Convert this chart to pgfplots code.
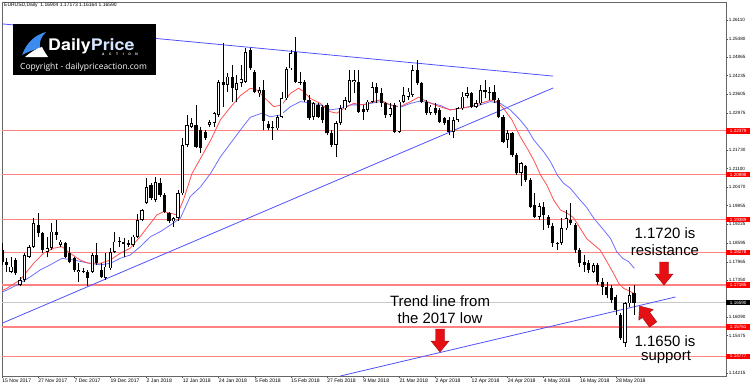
\documentclass[border=0pt]{standalone}
\usepackage{pgfplots}
\pgfplotsset{compat=1.18}
\usepackage{pgfplotstable}
\usepackage{fontspec}
\setmainfont{Liberation Sans}
\newfontfamily\osans{Open Sans}
\newfontfamily\logofont{TeX Gyre Heros}
\definecolor{hline}{RGB}{255,130,130}
\definecolor{maRed}{RGB}{255,80,80}
\definecolor{maBlue}{RGB}{110,110,255}
\definecolor{trend}{RGB}{80,80,255}
\definecolor{arrowred}{RGB}{230,16,20}
\definecolor{logoblue}{RGB}{60,140,240}
\definecolor{logolight}{RGB}{215,230,255}
\definecolor{lblred}{RGB}{255,0,0}

\pgfplotstableread{
i o h l c
0 1.1836 1.1859 1.1786 1.1797
1 1.1797 1.1808 1.1763 1.1785
2 1.1763 1.1814 1.1757 1.1780
3 1.1802 1.1808 1.1752 1.1757
4 1.1718 1.1746 1.1713 1.1735
5 1.1735 1.1825 1.1729 1.1819
6 1.1814 1.1853 1.1808 1.1847
7 1.1847 1.1943 1.1842 1.1926
8 1.1920 1.1960 1.1881 1.1892
9 1.1892 1.1898 1.1825 1.1836
10 1.1830 1.1881 1.1814 1.1842
11 1.1842 1.1926 1.1836 1.1898
12 1.1898 1.1937 1.1870 1.1887
13 1.1853 1.1870 1.1847 1.1864
14 1.1859 1.1864 1.1808 1.1814
15 1.1825 1.1847 1.1791 1.1797
16 1.1808 1.1814 1.1763 1.1769
17 1.1763 1.1791 1.1729 1.1769
18 1.1763 1.1774 1.1757 1.1765
19 1.1763 1.1769 1.1713 1.1741
20 1.1763 1.1825 1.1757 1.1819
21 1.1819 1.1859 1.1786 1.1791
22 1.1769 1.1791 1.1741 1.1746
23 1.1741 1.1825 1.1735 1.1780
24 1.1774 1.1842 1.1769 1.1830
25 1.1830 1.1898 1.1825 1.1864
26 1.1864 1.1881 1.1847 1.1866
27 1.1864 1.1875 1.1814 1.1856
28 1.1859 1.1870 1.1847 1.1853
29 1.1853 1.1887 1.1847 1.1881
30 1.1881 1.1957 1.1875 1.1937
31 1.1937 1.1975 1.1932 1.1970
32 1.1995 1.2078 1.1990 1.2049
33 1.2055 1.2061 1.2005 1.2010
34 1.2005 1.2083 1.1999 1.2066
35 1.2061 1.2078 1.2016 1.2021
36 1.2021 1.2027 1.1960 1.1965
37 1.1962 1.1965 1.1926 1.1932
38 1.1932 1.1948 1.1915 1.1943
39 1.1943 1.2038 1.1932 1.2027
40 1.2027 1.2212 1.2021 1.2190
41 1.2190 1.2291 1.2184 1.2257
42 1.2252 1.2280 1.2246 1.2263
43 1.2257 1.2325 1.2179 1.2184
44 1.2240 1.2252 1.2162 1.2179
45 1.2235 1.2240 1.2207 1.2212
46 1.2257 1.2274 1.2252 1.2268
47 1.2263 1.2302 1.2252 1.2297
48 1.2291 1.2409 1.2285 1.2403
49 1.2403 1.2532 1.2319 1.2392
50 1.2392 1.2431 1.2370 1.2420
51 1.2420 1.2459 1.2336 1.2381
52 1.2375 1.2426 1.2336 1.2398
53 1.2398 1.2459 1.2386 1.2411
54 1.2403 1.2516 1.2398 1.2504
55 1.2510 1.2516 1.2443 1.2448
56 1.2437 1.2443 1.2364 1.2370
57 1.2364 1.2386 1.2353 1.2375
58 1.2375 1.2409 1.2240 1.2269
59 1.2261 1.2269 1.2240 1.2246
60 1.2246 1.2269 1.2207 1.2248
61 1.2246 1.2291 1.2240 1.2285
62 1.2285 1.2370 1.2280 1.2347
63 1.2347 1.2454 1.2342 1.2445
64 1.2448 1.2510 1.2443 1.2499
65 1.2504 1.2555 1.2398 1.2403
66 1.2398 1.2437 1.2392 1.2403
67 1.2403 1.2409 1.2336 1.2342
68 1.2342 1.2358 1.2274 1.2280
69 1.2285 1.2336 1.2274 1.2330
70 1.2325 1.2330 1.2280 1.2285
71 1.2317 1.2325 1.2263 1.2274
72 1.2325 1.2330 1.2224 1.2229
73 1.2229 1.2240 1.2184 1.2190
74 1.2190 1.2269 1.2151 1.2263
75 1.2263 1.2325 1.2257 1.2313
76 1.2313 1.2353 1.2308 1.2342
77 1.2336 1.2443 1.2330 1.2409
78 1.2403 1.2443 1.2364 1.2409
79 1.2403 1.2443 1.2297 1.2302
80 1.2310 1.2325 1.2274 1.2302
81 1.2308 1.2342 1.2302 1.2336
82 1.2336 1.2403 1.2330 1.2386
83 1.2386 1.2398 1.2330 1.2364
84 1.2364 1.2381 1.2319 1.2330
85 1.2330 1.2336 1.2280 1.2291
86 1.2291 1.2330 1.2285 1.2313
87 1.2325 1.2330 1.2231 1.2235
88 1.2235 1.2342 1.2231 1.2336
89 1.2336 1.2386 1.2330 1.2358
90 1.2353 1.2381 1.2342 1.2370
91 1.2358 1.2459 1.2351 1.2443
92 1.2443 1.2476 1.2392 1.2398
93 1.2398 1.2403 1.2330 1.2336
94 1.2336 1.2342 1.2291 1.2297
95 1.2297 1.2325 1.2291 1.2319
96 1.2313 1.2330 1.2291 1.2297
97 1.2308 1.2313 1.2263 1.2268
98 1.2280 1.2285 1.2257 1.2263
99 1.2274 1.2285 1.2224 1.2235
100 1.2235 1.2285 1.2212 1.2274
101 1.2274 1.2319 1.2268 1.2313
102 1.2313 1.2370 1.2308 1.2353
103 1.2355 1.2386 1.2347 1.2364
104 1.2364 1.2370 1.2313 1.2319
105 1.2319 1.2341 1.2313 1.2330
106 1.2330 1.2392 1.2325 1.2375
107 1.2375 1.2409 1.2347 1.2367
108 1.2366 1.2386 1.2341 1.2370
109 1.2370 1.2392 1.2330 1.2341
110 1.2341 1.2347 1.2280 1.2285
111 1.2285 1.2291 1.2195 1.2201
112 1.2207 1.2240 1.2179 1.2229
113 1.2229 1.2235 1.2151 1.2156
114 1.2156 1.2162 1.2089 1.2094
115 1.2097 1.2134 1.2050 1.2128
116 1.2119 1.2122 1.2066 1.2072
117 1.2072 1.2077 1.1976 1.1982
118 1.1988 1.2027 1.1943 1.1948
119 1.1948 1.1993 1.1937 1.1984
120 1.1982 1.1999 1.1904 1.1954
121 1.1948 1.1954 1.1909 1.1920
122 1.1917 1.1926 1.1847 1.1859
123 1.1856 1.1864 1.1836 1.1861
124 1.1859 1.1943 1.1853 1.1909
125 1.1909 1.1971 1.1903 1.1943
126 1.1937 1.1993 1.1920 1.1926
127 1.1920 1.1926 1.1825 1.1836
128 1.1836 1.1842 1.1780 1.1791
129 1.1795 1.1819 1.1763 1.1785
130 1.1791 1.1802 1.1757 1.1769
131 1.1763 1.1791 1.1757 1.1785
132 1.1785 1.1791 1.1718 1.1729
133 1.1729 1.1741 1.1684 1.1712
134 1.1712 1.1729 1.1673 1.1684
135 1.1707 1.1718 1.1656 1.1668
136 1.1679 1.1684 1.1617 1.1634
137 1.1617 1.1623 1.1533 1.1538
138 1.1522 1.1662 1.1510 1.1656
139 1.1656 1.1712 1.1645 1.1684
140 1.16904 1.17173 1.16164 1.16590
}\ohlc

\newcommand\blockarrow[2]{%
  \filldraw[fill=arrowred, draw=arrowred!65!black, line width=0.4bp, shift={#1}, rotate=#2]
    (0,0) -- (9,11) -- (4.5,11) -- (4.5,23) -- (-4.5,23) -- (-4.5,11) -- (-9,11) -- cycle;}

\begin{document}
\begin{tikzpicture}[x=1bp,y=1bp]
\useasboundingbox (0,0) rectangle (750,388);
\begin{axis}[
  at={(2bp,12bp)}, anchor=south west,
  width=724bp, height=374bp, scale only axis,
  xmin=0, xmax=160.4, ymin=1.14113, ymax=1.26717,
  clip mode=individual,
  axis line style={draw=black!60, line width=0.7bp},
  tick align=outside, major tick length=2bp,
  tick style={black!70, line width=0.4bp},
  xtick pos=left, ytick pos=right, yticklabel pos=right,
  xtick={0,8,...,136},
  xticklabels={15 Nov 2017, 27 Nov 2017, 7 Dec 2017, 19 Dec 2017, 2 Jan 2018, 12 Jan 2018, 24 Jan 2018, 5 Feb 2018, 15 Feb 2018, 27 Feb 2018, 9 Mar 2018, 21 Mar 2018, 2 Apr 2018, 12 Apr 2018, 24 Apr 2018, 4 May 2018, 16 May 2018, 28 May 2018},
  xticklabel style={anchor=north west, font=\fontsize{5.1}{6}\selectfont, inner sep=0.6bp, xshift=-0.5bp},
  ytick={1.14215,1.15475,1.16090,1.17350,1.17965,1.18595,1.19225,1.19855,1.20470,1.21100,1.21730,1.22975,1.23605,1.24235,1.24865,1.25480,1.26110},
  scaled y ticks=false,
  yticklabel style={anchor=west, font=\fontsize{4.6}{5}\selectfont, inner sep=0.6bp,
    /pgf/number format/.cd, fixed, fixed zerofill, precision=5, assume math mode=true},
]
% horizontal red levels
\pgfplotsinvokeforeach{1.22379,1.20898,1.19389,1.18278,1.17185,1.15761,1.14777}{
  \addplot[hline, line width=1.5bp, forget plot] coordinates {(0,#1) (161,#1)};
}
% bid line
\addplot[black!22, line width=0.6bp] coordinates {(0,1.16590) (161,1.16590)};
% trend lines
\addplot[trend, line width=0.8bp] coordinates {(0,1.2598) (122.1,1.2422)};
\addplot[trend, line width=0.8bp] coordinates {(0,1.1589) (122.1,1.2382)};
\addplot[trend, line width=0.8bp] coordinates {(74.95,1.14113) (149.2,1.16775)};
% slow MA (blue)
\addplot[maBlue, line width=0.8bp] coordinates {
(0.0,1.1694) (1.1,1.1701) (4.0,1.1724) (6.3,1.1746) (8.5,1.1769) (10.7,1.1786) (13.3,1.1808) (15.9,1.1802) (18.8,1.1793) (21.8,1.1786) (24.0,1.1791) (26.2,1.1808) (28.4,1.1819) (30.6,1.1847) (32.9,1.1881) (35.1,1.1898) (37.3,1.1920) (39.5,1.1943) (41.7,1.2016) (44.0,1.2049) (46.2,1.2094) (48.4,1.2150) (50.6,1.2195) (52.8,1.2240) (55.0,1.2283) (57.6,1.2297) (59.4,1.2285) (61.7,1.2291) (63.9,1.2319) (66.1,1.2336) (68.3,1.2332) (70.5,1.2325) (72.7,1.2308) (74.9,1.2313) (77.2,1.2325) (79.4,1.2325) (81.6,1.2330) (83.8,1.2336) (86.0,1.2325) (88.2,1.2317) (90.5,1.2330) (92.7,1.2338) (94.9,1.2331) (97.1,1.2323) (99.3,1.2308) (101.5,1.2313) (103.7,1.2319) (106.0,1.2325) (108.2,1.2336) (110.4,1.2330) (112.6,1.2308) (114.8,1.2274) (116.3,1.2246) (117.8,1.2207) (120.0,1.2167) (121.5,1.2134) (123.0,1.2089) (124.4,1.2061) (125.9,1.2044) (128.1,1.2004) (129.5,1.1980) (131.1,1.1943) (133.3,1.1903) (134.8,1.1875) (136.2,1.1830) (137.5,1.1808) (138.8,1.1797) (140.1,1.1774)};
% fast MA (red)
\addplot[maRed, line width=0.8bp] coordinates {
(0.0,1.1699) (1.1,1.1707) (4.0,1.1735) (7.0,1.1791) (9.2,1.1825) (11.4,1.1842) (13.3,1.1847) (15.1,1.1825) (17.3,1.1802) (19.2,1.1791) (21.8,1.1791) (24.0,1.1802) (26.2,1.1825) (28.4,1.1842) (30.6,1.1881) (32.9,1.1926) (34.3,1.1954) (35.8,1.1965) (37.3,1.1960) (38.8,1.1954) (40.2,1.2005) (42.1,1.2094) (44.0,1.2145) (46.2,1.2205) (48.4,1.2275) (50.6,1.2317) (52.8,1.2356) (55.0,1.2381) (56.5,1.2375) (58.3,1.2347) (60.2,1.2319) (62.0,1.2325) (63.9,1.2364) (65.7,1.2381) (66.8,1.2370) (68.3,1.2347) (70.5,1.2330) (72.7,1.2302) (74.2,1.2297) (75.7,1.2313) (77.9,1.2330) (80.1,1.2325) (82.3,1.2336) (83.8,1.2342) (86.0,1.2325) (88.2,1.2319) (90.5,1.2336) (92.3,1.2351) (94.2,1.2336) (96.4,1.2322) (99.3,1.2308) (101.5,1.2313) (103.7,1.2319) (106.0,1.2330) (108.2,1.2341) (109.6,1.2336) (111.1,1.2313) (113.0,1.2274) (114.8,1.2218) (116.3,1.2180) (117.8,1.2139) (119.3,1.2089) (120.7,1.2055) (122.2,1.2005) (123.7,1.1971) (125.2,1.1960) (126.6,1.1945) (128.1,1.1909) (129.6,1.1873) (131.4,1.1850) (132.5,1.1836) (134.0,1.1797) (135.5,1.1757) (136.6,1.1724) (137.7,1.1707) (139.2,1.1696) (140,1.1690)};
% candle wicks
\addplot[black, line width=0.7bp, quiver={u=0, v={\thisrow{h}-\thisrow{l}}}] table[x=i, y=l] {\ohlc};
% candle bodies (outline / bear fill)
\addplot[black, line width=3.2bp, quiver={u=0, v={max(abs(\thisrow{c}-\thisrow{o}),0.0003)}}] table[x=i, y expr={min(\thisrow{o},\thisrow{c})}] {\ohlc};
% bull bodies white inside
\addplot[white, line width=1.5bp, quiver={u=0, v={(\thisrow{c}>\thisrow{o}) ? max(\thisrow{c}-\thisrow{o}-0.00054,0) : 0}}] table[x=i, y expr={min(\thisrow{o},\thisrow{c})+0.00027}] {\ohlc};
% right-side price labels
\pgfplotsinvokeforeach{1.22379,1.20898,1.19389,1.18278,1.17185,1.15761,1.14777}{
  \node[fill=lblred, text=white, anchor=west, inner xsep=0pt, inner ysep=0pt, minimum width=24bp, minimum height=5.6bp, font=\fontsize{4.6}{5}\selectfont] at (axis cs:160.4,#1) {#1};
}
\node[fill=black, text=white, anchor=west, inner xsep=0pt, inner ysep=0pt, minimum width=24bp, minimum height=5.6bp, font=\fontsize{4.6}{5}\selectfont] at (axis cs:160.4,1.16590) {1.16590};
\end{axis}
% header
\node[anchor=north west, inner sep=0, font=\fontsize{5}{6}\selectfont] at (4,385) {EURUSD,Daily\ \ 1.16904 1.17173 1.16164 1.16590};
% logo
\fill[black] (13,364) rectangle (156,313);
\fill[logoblue] (22,333) .. controls (27,346) and (35,353) .. (46,356) .. controls (41,351) and (39,346) .. (40,340) .. controls (33,338) and (27,336) .. cycle;
\fill[white] (25,331) .. controls (31,336) and (37,340) .. (42,341) .. controls (44,337) and (46,334) .. (48,331) -- cycle;
\node[anchor=base west, inner sep=0, text=white] at (48,338) {\scalebox{1.12}[1]{\fontsize{16}{16}\selectfont\logofont\bfseries Daily\textcolor{logolight}{Price}}};
\node[anchor=base east, inner sep=0, text=white] at (138,333) {\fontsize{3.3}{3.3}\selectfont\logofont\bfseries A\hspace{4.6bp}C\hspace{4.6bp}T\hspace{4.6bp}I\hspace{4.6bp}O\hspace{4.6bp}N};
\node[anchor=base west, inner sep=0, text=white] at (20,319) {\fontsize{8.5}{9}\selectfont\osans Copyright - dailypriceaction.com};
% annotations
\node[anchor=base, inner sep=0, font=\fontsize{15}{16}\selectfont] at (665,150) {1.1720 is};
\node[anchor=base, inner sep=0, font=\fontsize{15}{16}\selectfont] at (665,133) {resistance};
\node[anchor=base, inner sep=0, font=\fontsize{15}{16}\selectfont] at (665,42) {1.1650 is};
\node[anchor=base, inner sep=0, font=\fontsize{15}{16}\selectfont] at (666,28) {support};
\node[anchor=base, inner sep=0, font=\fontsize{15}{16}\selectfont] at (440,82) {Trend line from};
\node[anchor=base, inner sep=0, font=\fontsize{15}{16}\selectfont] at (440,65) {the 2017 low};
\blockarrow{(664,103)}{0}
\blockarrow{(440,36)}{0}
\blockarrow{(639.5,82)}{216.3}
\end{tikzpicture}
\end{document}
